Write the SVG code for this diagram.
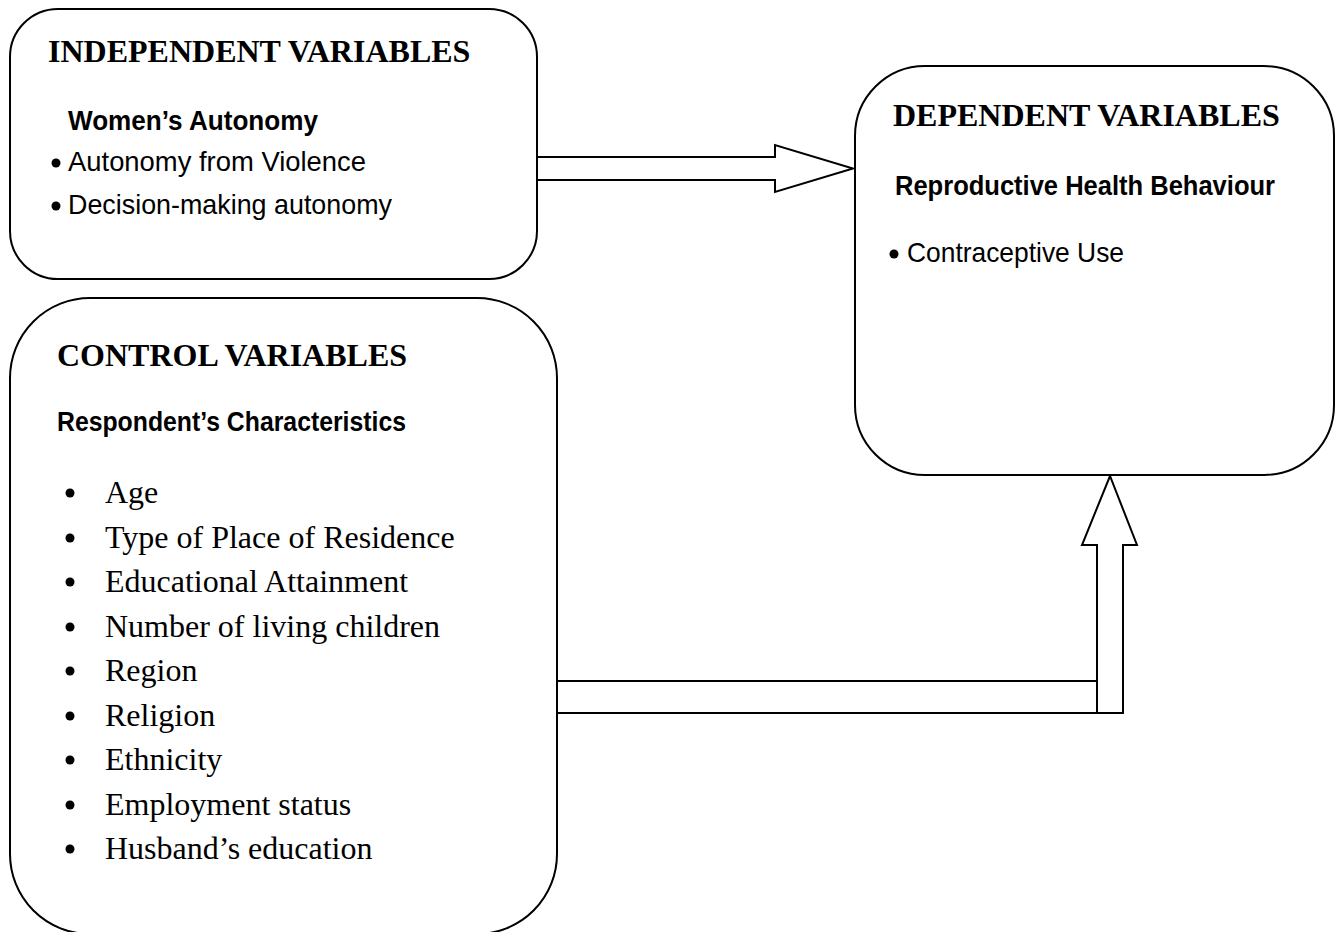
<svg xmlns="http://www.w3.org/2000/svg" width="1340" height="932" viewBox="0 0 1340 932">
<style>
.box{fill:#fff;stroke:#000;stroke-width:2}
.conn{fill:#fff;stroke:#000;stroke-width:2;stroke-linejoin:miter}
.line{fill:none;stroke:#000;stroke-width:2}
.hd{font-family:"Liberation Serif","Times New Roman",serif;font-weight:bold;font-size:32px;fill:#000}
.sub{font-family:"Liberation Sans",Arial,sans-serif;font-weight:bold;font-size:27px;fill:#000}
.it{font-family:"Liberation Sans",Arial,sans-serif;font-size:28px;fill:#000}
.tr{font-family:"Liberation Serif","Times New Roman",serif;font-size:32px;fill:#000}
.dot{fill:#000}
</style>
<rect width="1340" height="932" fill="#fff"/>
<g id="connectors">
  <polyline class="conn" points="537,157 775,157 775,145 853,168.5 775,192 775,180 537,180"/>
  <line class="line" x1="557" y1="681" x2="1097" y2="681"/>
  <line class="line" x1="557" y1="713" x2="1097" y2="713"/>
  <polygon class="conn" points="1097,713 1097,545 1082,545 1110,476 1137,545 1123,545 1123,713"/>
</g>
<g id="independent">
  <rect class="box" x="10" y="9" width="527" height="270" rx="48" ry="48"/>
  <text class="hd" x="48" y="62">INDEPENDENT VARIABLES</text>
  <text class="sub" x="68" y="130" textLength="250" lengthAdjust="spacingAndGlyphs">Women’s Autonomy</text>
  <circle class="dot" cx="56" cy="163" r="4.5"/>
  <text class="it" x="68" y="171" textLength="298" lengthAdjust="spacingAndGlyphs">Autonomy from Violence</text>
  <circle class="dot" cx="56" cy="206" r="4.5"/>
  <text class="it" x="68" y="214" textLength="324" lengthAdjust="spacingAndGlyphs">Decision-making autonomy</text>
</g>
<g id="dependent">
  <rect class="box" x="855" y="66" width="479" height="409" rx="70" ry="70"/>
  <text class="hd" x="893" y="126">DEPENDENT VARIABLES</text>
  <text class="sub" x="895" y="195" textLength="380" lengthAdjust="spacingAndGlyphs">Reproductive Health Behaviour</text>
  <circle class="dot" cx="894" cy="254" r="4.5"/>
  <text class="it" x="907" y="262" textLength="217" lengthAdjust="spacingAndGlyphs">Contraceptive Use</text>
</g>
<g id="control">
  <rect class="box" x="10" y="298" width="547" height="636" rx="80" ry="80"/>
  <text class="hd" x="57" y="366">CONTROL VARIABLES</text>
  <text class="sub" x="57" y="431" textLength="349" lengthAdjust="spacingAndGlyphs">Respondent’s Characteristics</text>
  <g>
    <circle class="dot" cx="70" cy="493" r="4.5"/><text class="tr" x="105" y="503">Age</text>
    <circle class="dot" cx="70" cy="538" r="4.5"/><text class="tr" x="105" y="548">Type of Place of Residence</text>
    <circle class="dot" cx="70" cy="582" r="4.5"/><text class="tr" x="105" y="592">Educational Attainment</text>
    <circle class="dot" cx="70" cy="627" r="4.5"/><text class="tr" x="105" y="637">Number of living children</text>
    <circle class="dot" cx="70" cy="671" r="4.5"/><text class="tr" x="105" y="681">Region</text>
    <circle class="dot" cx="70" cy="716" r="4.5"/><text class="tr" x="105" y="726">Religion</text>
    <circle class="dot" cx="70" cy="760" r="4.5"/><text class="tr" x="105" y="770">Ethnicity</text>
    <circle class="dot" cx="70" cy="805" r="4.5"/><text class="tr" x="105" y="815">Employment status</text>
    <circle class="dot" cx="70" cy="849" r="4.5"/><text class="tr" x="105" y="859">Husband’s education</text>
  </g>
</g>
</svg>
